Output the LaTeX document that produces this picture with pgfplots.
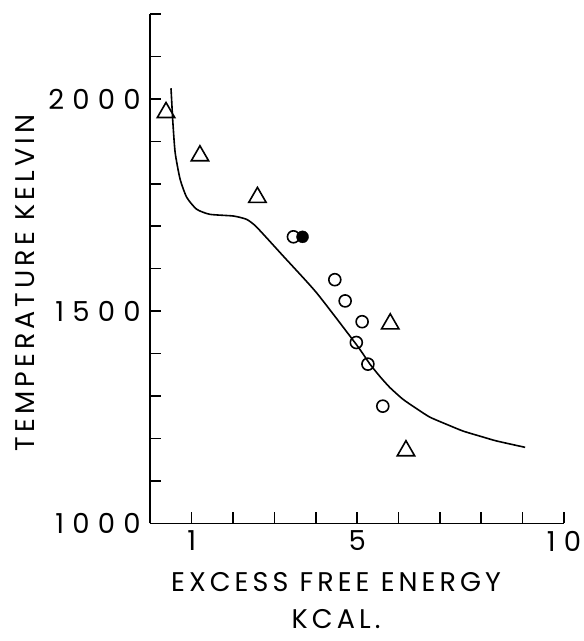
\documentclass[border=0pt]{standalone}
\usepackage{fontspec}
\setmainfont{Poppins}
\newfontfamily\tickfont{Poppins}[LetterSpace=30]
\newfontfamily\labfont{Poppins}[LetterSpace=15]
\usepackage{pgfplots}
\pgfplotsset{compat=1.18}

\begin{document}
\begin{tikzpicture}
\useasboundingbox (-150.3pt,-117.7pt) rectangle (433.7pt,523.3pt);
\begin{axis}[
  scale only axis,
  width=413.7pt, height=509.3pt,
  xmin=0, xmax=10, ymin=1000, ymax=2200,
  axis lines=left,
  axis line style={-, line width=1.6pt},
  tick style={line width=1.6pt, black},
  tick align=inside,
  major tick length=11pt,
  xtick={1,...,10},
  xticklabels={1,,,,5,,,,,10},
  ytick={1000,1100,...,2200},
  yticklabels={1000,,,,,1500,,,,,2000,,},
  /pgf/number format/assume math mode=true,
  tick label style={font=\tickfont\fontsize{27.5}{30}\selectfont},
  xticklabel style={yshift=-4pt},
  yticklabel style={xshift=-6pt},
  xlabel={EXCESS FREE ENERGY\\KCAL.},
  xlabel style={at={(axis description cs:0.449,0)}, anchor=north,
    yshift=-46pt, align=center,
    font=\labfont\fontsize{27}{37}\selectfont},
  ylabel={TEMPERATURE KELVIN},
  ylabel style={at={(axis description cs:-0.303,0.472)}, anchor=center,
    font=\labfont\fontsize{27}{30}\selectfont},
  clip=false,
]
% calculated curve
\addplot[black, line width=1.6pt, smooth, tension=0.35] coordinates {
  (0.50,2025) (0.52,1990) (0.54,1953) (0.60,1874) (0.72,1811) (0.88,1768)
  (1.12,1740) (1.44,1728) (2.01,1724) (2.33,1716) (2.57,1698) (3.21,1630)
  (4.02,1543) (4.99,1420) (5.31,1375) (5.55,1346) (5.79,1320) (6.11,1292)
  (6.44,1270) (6.76,1250) (7.24,1230) (7.57,1217) (8.05,1203) (8.37,1194)
  (9.06,1179)
};
% triangles
\addplot[only marks, mark=triangle, mark size=10pt,
  mark options={line width=1.6pt, black}] coordinates {
  (0.38,1968) (1.20,1866) (2.59,1768) (5.80,1470) (6.18,1171)
};
% open circles
\addplot[only marks, mark=o, mark size=6pt,
  mark options={line width=1.6pt, black}] coordinates {
  (3.46,1675) (4.46,1574) (4.71,1524) (5.12,1475) (4.98,1426)
  (5.26,1375) (5.62,1276)
};
% filled circle
\addplot[only marks, mark=*, mark size=6pt, black] coordinates {
  (3.68,1675)
};
\end{axis}
\end{tikzpicture}
\end{document}
